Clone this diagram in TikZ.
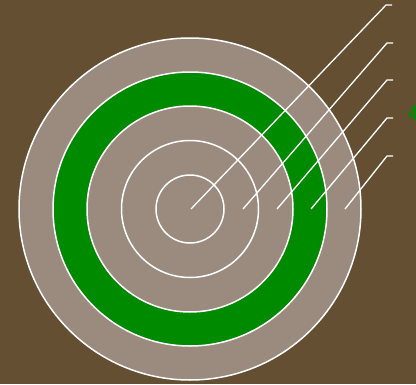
\documentclass[tikz,border=0pt]{standalone}
\definecolor{bark}{RGB}{101,79,50}
\definecolor{ringgray}{RGB}{155,139,127}
\definecolor{ringgreen}{RGB}{0,138,0}
\tikzset{ring/.style={draw=white,line width=1.5pt},
  leader/.style={draw=white,line width=1.3pt}}
\begin{document}
\begin{tikzpicture}[x=1pt,y=-1pt]
\useasboundingbox (0,0) rectangle (416,384);
\fill[bark] (0,0) rectangle (416,384);
\coordinate (c) at (190,209);
\fill[ringgray] (c) circle (171);
\fill[ringgreen] (c) circle (137);
\fill[ringgray] (c) circle (103);
\draw[ring] (c) circle (171);
\draw[ring] (c) circle (137);
\draw[ring] (c) circle (103);
\draw[ring] (c) circle (68.5);
\draw[ring] (c) circle (34);
\coordinate (s1) at (191,209);
\coordinate (s2) at (243,209);
\coordinate (s3) at (277,209);
\coordinate (s4) at (311,209);
\coordinate (s5) at (345,209);
\coordinate (e1) at (386,5);
\coordinate (e2) at (387,43);
\coordinate (e3) at (387,80);
\coordinate (e4) at (387,118);
\coordinate (e5) at (387,156);
\draw[leader] (s1) -- (e1) -- ++(6,0);
\draw[leader] (s2) -- (e2) -- ++(6,0);
\draw[leader] (s3) -- (e3) -- ++(6,0);
\draw[leader] (s4) -- (e4) -- ++(6,0);
\draw[leader] (s5) -- (e5) -- ++(6,0);
\node[text=ringgreen,anchor=south west,inner sep=0pt,font=\huge\sffamily\bfseries] (lab) at (407.5,121) {4};
\end{tikzpicture}
\end{document}
